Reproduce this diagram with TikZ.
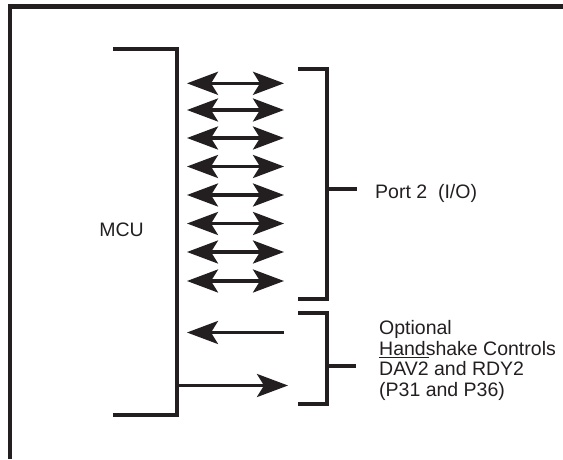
\documentclass[tikz,border=0pt]{standalone}
\usepackage{fontspec}
\setmainfont{Liberation Sans}
\usetikzlibrary{arrows.meta}
\definecolor{ink}{HTML}{231F20}
\newcommand\ovbar[1]{\leavevmode\vbox{\hrule height 1.3pt\kern 3.6pt\hbox{#1}}}
\begin{document}
\begin{tikzpicture}[x=1pt,y=-1pt,
  frame/.style={draw=ink,line width=4.5pt},
  brk/.style={draw=ink,line width=4pt},
  sig/.style={draw=ink,line width=3.3pt},
  tipA/.tip={Stealth[length=31pt,width=23pt,inset=7pt]},
  head/.style={-tipA},
  dhead/.style={tipA-tipA},
  lbl/.style={inner sep=0pt,anchor=base west,text=ink,font=\fontsize{19.5}{20.5}\selectfont}]
\useasboundingbox (0,0) rectangle (563,459);
% outer frame
\coordinate (fTR) at (563,6.5);
\coordinate (fTL) at (10,6.5);
\coordinate (fBL) at (10,459);
\draw[frame] (fTR) -- (fTL) -- (fBL);
% MCU bracket
\coordinate (m1) at (113,49);
\coordinate (m2) at (177,49);
\coordinate (m3) at (177,415);
\coordinate (m4) at (113,415);
\draw[brk] (m1) -- (m2) -- (m3) -- (m4);
\node[lbl,anchor=base] (mcu) at (121.5,236) {MCU};
% Port 2 bracket
\coordinate (p1) at (298,69);
\coordinate (p2) at (327,69);
\coordinate (p3) at (327,299);
\coordinate (p4) at (298,299);
\coordinate (pt0) at (327,189);
\coordinate (pt1) at (357,189);
\draw[brk] (p1) -- (p2) -- (p3) -- (p4);
\draw[brk] (pt0) -- (pt1);
\node[lbl] (port) at (375,198) {Port 2\ \ (I/O)};
% double arrows
\foreach \i/\yy in {1/83.3,2/110,3/138,4/166.5,5/195,6/223.5,7/252,8/281}{
  \coordinate (aL\i) at (187,\yy);
  \coordinate (aR\i) at (284,\yy);
  \draw[sig,dhead] (aL\i) -- (aR\i);
}
% handshake bracket
\coordinate (h1) at (298,313);
\coordinate (h2) at (327,313);
\coordinate (h3) at (327,404);
\coordinate (h4) at (298,404);
\coordinate (ht0) at (327,366);
\coordinate (ht1) at (356,366);
\draw[brk] (h1) -- (h2) -- (h3) -- (h4);
\draw[brk] (ht0) -- (ht1);
% handshake arrows
\coordinate (s1a) at (284,332.5);
\coordinate (s1b) at (187,332.5);
\draw[sig,head] (s1a) -- (s1b);
\coordinate (s2a) at (177,385.5);
\coordinate (s2b) at (288,385.5);
\draw[sig,head] (s2a) -- (s2b);
% handshake text
\node[lbl] (t1) at (379,334.5) {Optional};
\node[lbl] (t2) at (379,355) {Handshake Controls};
\node[lbl] (t3) at (379,375.5) {\ovbar{DAV2} and RDY2};
\node[lbl] (t4) at (379,396) {(P31 and P36)};
\end{tikzpicture}
\end{document}
